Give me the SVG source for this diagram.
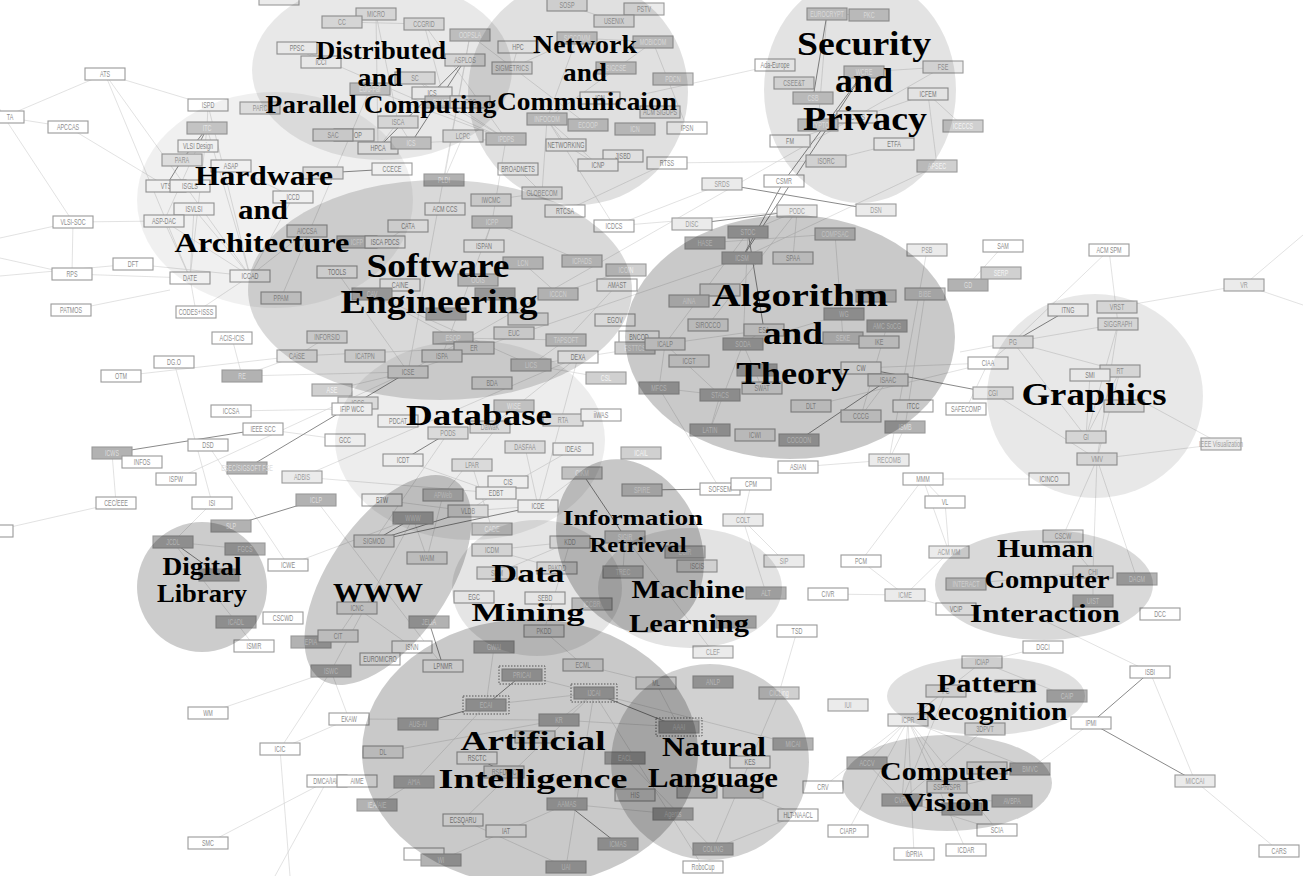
<svg xmlns="http://www.w3.org/2000/svg" xmlns:xlink="http://www.w3.org/1999/xlink" width="1303" height="876" viewBox="0 0 1303 876">
<style>
.nd use{stroke:#9a9a9a;stroke-width:1.1}
.nd text{font-family:"Liberation Sans",Arial,sans-serif;font-size:9px;text-anchor:middle}
.w use{fill:#fff}.w text{fill:#8c8c8c}
.a use{fill:#ebebeb}.a text{fill:#9c9c9c}
.b use{fill:#d0d0d0}.b text{fill:#f4f4f4}
.c use{fill:#b2b2b2}.c text{fill:#dedede}
.dot{fill:none;stroke:#6a6a6a;stroke-width:1;stroke-dasharray:1.5 1.5}
.cl ellipse,.cl circle{fill:#000}
.cl text{font-family:"Liberation Serif","Times New Roman",serif;font-weight:bold;fill:#000;text-anchor:middle}
.lt{fill:none;stroke:#d6d6d6;stroke-width:.7}
.dk{fill:none;stroke:#8a8a8a;stroke-width:1}
</style>
<defs><rect id="bx" x="-20" y="-6" width="40" height="12"/></defs>
<rect width="1303" height="876" fill="#fff"/>
<g id="connectors">
<path class="lt" d="M105 74L4 117M105 74L208 105M105 74L190 278M105 74L250 276M4 117L68 127M4 117L73 222M68 127L166 186M-5 100L4 117M73 222L72 274M73 222L164 221M73 222L0 238M72 274L0 258M72 274L190 278M133 264L250 276M133 264L0 276M208 105L207 128M208 105L250 276M207 128L190 278M207 128L250 276M198 146L164 221M231 166L293 197M194 209L190 278M194 209L250 276M164 221L190 278M164 221L250 276M293 197L250 276M250 276L196 312M190 278L196 312M307 231L250 276M297 48L321 62M297 48L506 139M342 22L424 24M376 14L398 122M376 14L378 148M424 24L445 102M424 24L506 139M470 35L588 125M470 35L444 180M470 35L408 372M415 78L432 93M415 78L506 139M370 89L506 139M445 102L506 139M506 139L492 222M463 136L444 180M398 122L378 148M411 143L398 122M577 38L547 119M577 38L512 68M577 38L653 42M518 47L512 68M614 21L567 5M547 119L542 193M547 119L598 165M547 119L653 42M547 119L566 145M598 165L566 145M542 193L491 200M518 169L542 193M565 211L667 163M667 163L826 161M614 226L722 184M614 226L797 211M614 226L547 119M523 263L558 294M582 261L492 222M626 270L558 294M687 128L653 42M827 14L869 15M818 125L827 14M790 141L928 94M928 94L937 166M928 94L963 126M894 144L826 161M943 67L408 372M943 67L864 72M937 166L742 258M775 65L640 95M797 211L793 258M797 211L748 232M708 325L797 211M748 232L743 344M748 232L665 344M743 344L764 330M743 344L762 388M764 330L665 344M665 344L659 388M659 388L720 395M720 395L665 344M720 395L710 430M710 430L743 344M861 416L887 326M861 416L888 380M811 406L988 363M861 368L888 380M905 427L889 460M905 427L925 294M927 250L889 460M751 484L743 520M720 489L659 388M844 314L743 344M843 338L835 234M705 243L835 234M1003 246L968 285M1109 250L1013 342M1109 250L1118 324M1244 285L1117 307M1244 285L1303 235M1244 285L1303 305M1013 342L1118 324M1013 342L1120 371M1013 342L1086 437M1013 342L988 363M1013 342L960 352M993 393L1097 459M1090 375L1086 437M1118 324L1086 437M1118 324L1097 459M1120 371L1086 437M1120 371L1097 459M1097 459L1221 444M1097 459L1063 536M1097 459L1137 579M1097 459L1093 572M923 479L1049 479M1221 444L1140 400M949 552L905 595M949 552L923 479M861 561L905 595M861 561L923 479M905 595L828 594M905 595L956 609M766 593L743 520M1063 536L1093 572M1093 572L1093 601M1093 572L966 584M1043 620L1150 672M1043 647L982 662M982 662L908 720M908 720L902 800M908 720L946 691M908 720L1030 769M908 720L867 763M946 691L902 800M867 763L902 800M1030 769L902 800M1012 801L902 800M997 830L902 800M997 830L908 720M848 831L908 720M914 854L908 720M966 850L908 720M947 787L908 720M1150 672L1195 781M1195 781L1279 851M1067 696L982 662M985 729L902 800M1091 723L1030 769M594 693L559 720M594 693L486 705M594 693L522 675M679 727L559 720M656 683L679 727M583 665L656 683M583 665L544 631M544 631L570 542M570 542L492 550M570 542L497 573M492 550L557 568M567 804L506 831M506 831L441 860M463 820L566 867M566 867L594 693M463 820L594 693M349 719L331 671M349 719L559 720M383 752L559 720M414 782L486 705M377 805L414 782M494 647L486 705M492 529L472 465M316 500L443 666M357 608L412 647M338 636L357 608M413 518L331 671M413 518L427 558M427 558L443 495M413 518L288 565M208 713L331 671M280 749L349 719M280 749L331 671M280 749L290 876M208 843L327 781M327 781L275 876M673 814L567 804M713 849L779 693M625 758L713 849M793 744L594 693M703 867L594 693M713 652L625 537M623 572L625 537M685 552L625 537M468 511L538 506M538 506L496 493M496 493L468 511M525 447L538 506M578 357L538 506M474 348L297 356M297 356L327 337M448 433L374 541M403 460L496 493M382 500L468 511M514 406L443 495M582 473L538 506M573 449L496 493M490 427L578 357M302 477L496 493M302 477L578 357M71 310L170 290M232 338L242 376M242 376L408 372M242 376L297 356M121 376L297 356M231 411L352 409M174 362L212 503M116 503L112 453M116 503L-7 531M176 479L408 372M208 445L288 565M263 429L345 440M408 372L332 390M408 372L742 258M408 372L337 272M453 338L566 340M453 338L372 294M531 365L372 294M566 340L531 365M617 285L566 340M531 365L665 344M442 356L492 222M492 222L484 246M506 139L411 143M408 226L385 242M281 298L370 89M173 542L236 622M212 503L173 542M173 542L245 549M254 646L236 622M798 815L713 849M798 815L743 792M823 787L908 720M797 631L779 693M784 561L743 520M606 378L531 365M798 467L889 460M966 409L988 363M945 502L949 552M923 479L945 502M861 368L988 363"/>
<path class="dk" d="M112 453L263 429M247 468L408 372M316 500L231 526M207 128L182 160M207 128L198 146M182 160L166 186M465 60L378 148M465 60L411 143M392 169L323 173M692 224L797 211M722 184L876 210M784 181L742 258M864 72L784 181M864 72L742 258M748 232L764 330M813 98L827 14M861 368L993 393M888 380L799 440M720 489L642 490M448 433L403 460M374 541L538 506M374 541L468 511M374 541L413 518M582 473L625 537M429 622L443 666M486 705L522 675M594 693L679 727M418 724L486 705M567 804L618 844M1091 723L1150 672M1091 723L1195 781M477 758L504 772M1013 342L1068 310M173 542L219 575"/>
</g>
<g id="nodes">
<g id="n-top" class="nd a" transform="translate(279 -1)"><use href="#bx"/></g>
<g id="n-ATS" class="nd w" transform="translate(105 74)"><use href="#bx"/><text transform="matrix(.6 0 0 1 0 3)">ATS</text></g>
<g id="n-TA" class="nd w" transform="translate(4 117)"><use href="#bx"/><text transform="matrix(.6 0 0 1 6 3)">TA</text></g>
<g id="n-APCCAS" class="nd w" transform="translate(68 127)"><use href="#bx"/><text transform="matrix(.6 0 0 1 0 3)">APCCAS</text></g>
<g id="n-ISPD" class="nd w" transform="translate(208 105)"><use href="#bx"/><text transform="matrix(.6 0 0 1 0 3)">ISPD</text></g>
<g id="n-PARC" class="nd a" transform="translate(260 108)"><use href="#bx"/><text transform="matrix(.6 0 0 1 0 3)">PARC</text></g>
<g id="n-ITC" class="nd b" transform="translate(207 128)"><use href="#bx"/><text transform="matrix(.6 0 0 1 0 3)">ITC</text></g>
<g id="n-VLSID" class="nd w" transform="translate(198 146)"><use href="#bx"/><text transform="matrix(.6 0 0 1 0 3)">VLSI Design</text></g>
<g id="n-PARA" class="nd a" transform="translate(182 160)"><use href="#bx"/><text transform="matrix(.6 0 0 1 0 3)">PARA</text></g>
<g id="n-ASAP" class="nd w" transform="translate(231 166)"><use href="#bx"/><text transform="matrix(.6 0 0 1 0 3)">ASAP</text></g>
<g id="n-VTS" class="nd w" transform="translate(166 186)"><use href="#bx"/><text transform="matrix(.6 0 0 1 0 3)">VTS</text></g>
<g id="n-ISGLS" class="nd w" transform="translate(190 186)"><use href="#bx"/><text transform="matrix(.6 0 0 1 0 3)">ISGLS</text></g>
<g id="n-ICCD" class="nd w" transform="translate(293 197)"><use href="#bx"/><text transform="matrix(.6 0 0 1 0 3)">ICCD</text></g>
<g id="n-ISVLSI" class="nd w" transform="translate(194 209)"><use href="#bx"/><text transform="matrix(.6 0 0 1 0 3)">ISVLSI</text></g>
<g id="n-ASPDAC" class="nd w" transform="translate(164 221)"><use href="#bx"/><text transform="matrix(.6 0 0 1 0 3)">ASP-DAC</text></g>
<g id="n-AICCSA" class="nd a" transform="translate(307 231)"><use href="#bx"/><text transform="matrix(.6 0 0 1 0 3)">AICCSA</text></g>
<g id="n-VLSISOC" class="nd w" transform="translate(73 222)"><use href="#bx"/><text transform="matrix(.6 0 0 1 0 3)">VLSI-SOC</text></g>
<g id="n-DFT" class="nd w" transform="translate(133 264)"><use href="#bx"/><text transform="matrix(.6 0 0 1 0 3)">DFT</text></g>
<g id="n-RPS" class="nd w" transform="translate(72 274)"><use href="#bx"/><text transform="matrix(.6 0 0 1 0 3)">RPS</text></g>
<g id="n-DATE" class="nd w" transform="translate(190 278)"><use href="#bx"/><text transform="matrix(.6 0 0 1 0 3)">DATE</text></g>
<g id="n-ICCAD" class="nd w" transform="translate(250 276)"><use href="#bx"/><text transform="matrix(.6 0 0 1 0 3)">ICCAD</text></g>
<g id="n-TOOLS" class="nd w" transform="translate(337 272)"><use href="#bx"/><text transform="matrix(.6 0 0 1 0 3)">TOOLS</text></g>
<g id="n-PPSC" class="nd w" transform="translate(297 48)"><use href="#bx"/><text transform="matrix(.6 0 0 1 0 3)">PPSC</text></g>
<g id="n-ICCI" class="nd w" transform="translate(321 62)"><use href="#bx"/><text transform="matrix(.6 0 0 1 0 3)">ICCI</text></g>
<g id="n-OP" class="nd w" transform="translate(354 135)"><use href="#bx"/><text transform="matrix(.6 0 0 1 4 3)">OP</text></g>
<g id="n-SAC" class="nd a" transform="translate(333 135)"><use href="#bx"/><text transform="matrix(.6 0 0 1 0 3)">SAC</text></g>
<g id="n-CCECE" class="nd w" transform="translate(392 169)"><use href="#bx"/><text transform="matrix(.6 0 0 1 0 3)">CCECE</text></g>
<g id="n-hw1" class="nd a" transform="translate(323 173)"><use href="#bx"/></g>
<g id="n-MICRO" class="nd a" transform="translate(376 14)"><use href="#bx"/><text transform="matrix(.6 0 0 1 0 3)">MICRO</text></g>
<g id="n-CC" class="nd a" transform="translate(342 22)"><use href="#bx"/><text transform="matrix(.6 0 0 1 0 3)">CC</text></g>
<g id="n-CCGRID" class="nd a" transform="translate(424 24)"><use href="#bx"/><text transform="matrix(.6 0 0 1 0 3)">CCGRID</text></g>
<g id="n-OOPSLA" class="nd b" transform="translate(470 35)"><use href="#bx"/><text transform="matrix(.6 0 0 1 0 3)">OOPSLA</text></g>
<g id="n-ASPLOS" class="nd a" transform="translate(465 60)"><use href="#bx"/><text transform="matrix(.6 0 0 1 0 3)">ASPLOS</text></g>
<g id="n-EuroPar" class="nd b" transform="translate(370 89)"><use href="#bx"/><text transform="matrix(.6 0 0 1 0 3)">Euro-Par</text></g>
<g id="n-SC" class="nd a" transform="translate(415 78)"><use href="#bx"/><text transform="matrix(.6 0 0 1 0 3)">SC</text></g>
<g id="n-ICS" class="nd w" transform="translate(432 93)"><use href="#bx"/><text transform="matrix(.6 0 0 1 0 3)">ICS</text></g>
<g id="n-CLUSTER" class="nd b" transform="translate(445 102)"><use href="#bx"/><text transform="matrix(.6 0 0 1 0 3)">CLUSTER</text></g>
<g id="n-IPCC" class="nd a" transform="translate(470 102)"><use href="#bx"/><text transform="matrix(.6 0 0 1 0 3)">IPCC</text></g>
<g id="n-ISCA" class="nd a" transform="translate(398 122)"><use href="#bx"/><text transform="matrix(.6 0 0 1 0 3)">ISCA</text></g>
<g id="n-LCPC" class="nd a" transform="translate(463 136)"><use href="#bx"/><text transform="matrix(.6 0 0 1 0 3)">LCPC</text></g>
<g id="n-IPDPS" class="nd b" transform="translate(506 139)"><use href="#bx"/><text transform="matrix(.6 0 0 1 0 3)">IPDPS</text></g>
<g id="n-HPCA" class="nd w" transform="translate(378 148)"><use href="#bx"/><text transform="matrix(.6 0 0 1 0 3)">HPCA</text></g>
<g id="n-ICS2" class="nd b" transform="translate(411 143)"><use href="#bx"/><text transform="matrix(.6 0 0 1 0 3)">ICS</text></g>
<g id="n-PLDI" class="nd c" transform="translate(444 180)"><use href="#bx"/><text transform="matrix(.6 0 0 1 0 3)">PLDI</text></g>
<g id="n-SOSP" class="nd a" transform="translate(567 5)"><use href="#bx"/><text transform="matrix(.6 0 0 1 0 3)">SOSP</text></g>
<g id="n-PSTV" class="nd a" transform="translate(644 9)"><use href="#bx"/><text transform="matrix(.6 0 0 1 0 3)">PSTV</text></g>
<g id="n-USENIX" class="nd a" transform="translate(614 21)"><use href="#bx"/><text transform="matrix(.6 0 0 1 0 3)">USENIX</text></g>
<g id="n-SIGCOMM" class="nd b" transform="translate(577 38)"><use href="#bx"/><text transform="matrix(.6 0 0 1 0 3)">SIGCOMM</text></g>
<g id="n-HPC" class="nd w" transform="translate(518 47)"><use href="#bx"/><text transform="matrix(.6 0 0 1 0 3)">HPC</text></g>
<g id="n-MOBICOM" class="nd b" transform="translate(653 42)"><use href="#bx"/><text transform="matrix(.6 0 0 1 0 3)">MOBICOM</text></g>
<g id="n-SIGMETRICS" class="nd a" transform="translate(512 68)"><use href="#bx"/><text transform="matrix(.6 0 0 1 0 3)">SIGMETRICS</text></g>
<g id="n-SIGCSE" class="nd b" transform="translate(616 68)"><use href="#bx"/><text transform="matrix(.6 0 0 1 0 3)">SIGCSE</text></g>
<g id="n-ICN" class="nd w" transform="translate(600 98)"><use href="#bx"/><text transform="matrix(.6 0 0 1 0 3)">ICN</text></g>
<g id="n-SIGOPS" class="nd a" transform="translate(660 112)"><use href="#bx"/><text transform="matrix(.6 0 0 1 0 3)">ACM SIGOPS</text></g>
<g id="n-INFOCOM" class="nd b" transform="translate(547 119)"><use href="#bx"/><text transform="matrix(.6 0 0 1 0 3)">INFOCOM</text></g>
<g id="n-ECOOP" class="nd b" transform="translate(588 125)"><use href="#bx"/><text transform="matrix(.6 0 0 1 0 3)">ECOOP</text></g>
<g id="n-ICN2" class="nd b" transform="translate(635 129)"><use href="#bx"/><text transform="matrix(.6 0 0 1 0 3)">ICN</text></g>
<g id="n-NETWORKING" class="nd w" transform="translate(566 145)"><use href="#bx"/><text transform="matrix(.6 0 0 1 0 3)">NETWORKING</text></g>
<g id="n-JISBD" class="nd w" transform="translate(623 156)"><use href="#bx"/><text transform="matrix(.6 0 0 1 0 3)">JISBD</text></g>
<g id="n-ICNP" class="nd w" transform="translate(598 165)"><use href="#bx"/><text transform="matrix(.6 0 0 1 0 3)">ICNP</text></g>
<g id="n-IPSN" class="nd w" transform="translate(687 128)"><use href="#bx"/><text transform="matrix(.6 0 0 1 0 3)">IPSN</text></g>
<g id="n-RTSS" class="nd w" transform="translate(667 163)"><use href="#bx"/><text transform="matrix(.6 0 0 1 0 3)">RTSS</text></g>
<g id="n-PDCN" class="nd b" transform="translate(673 79)"><use href="#bx"/><text transform="matrix(.6 0 0 1 0 3)">PDCN</text></g>
<g id="n-BROADNETS" class="nd w" transform="translate(518 169)"><use href="#bx"/><text transform="matrix(.6 0 0 1 0 3)">BROADNETS</text></g>
<g id="n-GLOBECOM" class="nd a" transform="translate(542 193)"><use href="#bx"/><text transform="matrix(.6 0 0 1 0 3)">GLOBECOM</text></g>
<g id="n-IWCMC" class="nd a" transform="translate(491 200)"><use href="#bx"/><text transform="matrix(.6 0 0 1 0 3)">IWCMC</text></g>
<g id="n-ACMCCS" class="nd w" transform="translate(445 209)"><use href="#bx"/><text transform="matrix(.6 0 0 1 0 3)">ACM CCS</text></g>
<g id="n-RTCSA" class="nd w" transform="translate(565 211)"><use href="#bx"/><text transform="matrix(.6 0 0 1 0 3)">RTCSA</text></g>
<g id="n-ICPP" class="nd b" transform="translate(492 222)"><use href="#bx"/><text transform="matrix(.6 0 0 1 0 3)">ICPP</text></g>
<g id="n-CATA" class="nd w" transform="translate(408 226)"><use href="#bx"/><text transform="matrix(.6 0 0 1 0 3)">CATA</text></g>
<g id="n-ICDCS" class="nd w" transform="translate(614 226)"><use href="#bx"/><text transform="matrix(.6 0 0 1 0 3)">ICDCS</text></g>
<g id="n-ICFP" class="nd b" transform="translate(357 242)"><use href="#bx"/><text transform="matrix(.6 0 0 1 0 3)">ICFP</text></g>
<g id="n-ISCAPDCS" class="nd w" transform="translate(385 242)"><use href="#bx"/><text transform="matrix(.6 0 0 1 0 3)">ISCA PDCS</text></g>
<g id="n-ISPAN" class="nd w" transform="translate(484 246)"><use href="#bx"/><text transform="matrix(.6 0 0 1 0 3)">ISPAN</text></g>
<g id="n-LCN" class="nd b" transform="translate(523 263)"><use href="#bx"/><text transform="matrix(.6 0 0 1 0 3)">LCN</text></g>
<g id="n-ICPADS" class="nd b" transform="translate(582 261)"><use href="#bx"/><text transform="matrix(.6 0 0 1 0 3)">ICPADS</text></g>
<g id="n-ICOIN" class="nd b" transform="translate(626 270)"><use href="#bx"/><text transform="matrix(.6 0 0 1 0 3)">ICOIN</text></g>
<g id="n-AMAST" class="nd w" transform="translate(617 285)"><use href="#bx"/><text transform="matrix(.6 0 0 1 0 3)">AMAST</text></g>
<g id="n-CAINE" class="nd w" transform="translate(400 285)"><use href="#bx"/><text transform="matrix(.6 0 0 1 0 3)">CAINE</text></g>
<g id="n-OOIS" class="nd b" transform="translate(478 280)"><use href="#bx"/><text transform="matrix(.6 0 0 1 0 3)">OOIS</text></g>
<g id="n-ICCCN" class="nd b" transform="translate(558 294)"><use href="#bx"/><text transform="matrix(.6 0 0 1 0 3)">ICCCN</text></g>
<g id="n-EUROCRYPT" class="nd b" transform="translate(827 14)"><use href="#bx"/><text transform="matrix(.6 0 0 1 0 3)">EUROCRYPT</text></g>
<g id="n-PKC" class="nd b" transform="translate(869 15)"><use href="#bx"/><text transform="matrix(.6 0 0 1 0 3)">PKC</text></g>
<g id="n-AdaEurope" class="nd w" transform="translate(775 65)"><use href="#bx"/><text transform="matrix(.6 0 0 1 0 3)">Ada-Europe</text></g>
<g id="n-WCRE" class="nd b" transform="translate(864 72)"><use href="#bx"/><text transform="matrix(.6 0 0 1 0 3)">WCRE</text></g>
<g id="n-FSE" class="nd a" transform="translate(943 67)"><use href="#bx"/><text transform="matrix(.6 0 0 1 0 3)">FSE</text></g>
<g id="n-CSEET" class="nd a" transform="translate(794 83)"><use href="#bx"/><text transform="matrix(.6 0 0 1 0 3)">CSEE&amp;T</text></g>
<g id="n-ICFEM" class="nd w" transform="translate(928 94)"><use href="#bx"/><text transform="matrix(.6 0 0 1 0 3)">ICFEM</text></g>
<g id="n-CSB" class="nd b" transform="translate(813 98)"><use href="#bx"/><text transform="matrix(.6 0 0 1 0 3)">CSB</text></g>
<g id="n-ICTCS" class="nd w" transform="translate(857 117)"><use href="#bx"/><text transform="matrix(.6 0 0 1 0 3)">ICTCS</text></g>
<g id="n-CRYPTO" class="nd b" transform="translate(818 125)"><use href="#bx"/><text transform="matrix(.6 0 0 1 0 3)">CRYPTO</text></g>
<g id="n-ICECCS" class="nd b" transform="translate(963 126)"><use href="#bx"/><text transform="matrix(.6 0 0 1 0 3)">ICECCS</text></g>
<g id="n-FM" class="nd w" transform="translate(790 141)"><use href="#bx"/><text transform="matrix(.6 0 0 1 0 3)">FM</text></g>
<g id="n-ETFA" class="nd w" transform="translate(894 144)"><use href="#bx"/><text transform="matrix(.6 0 0 1 0 3)">ETFA</text></g>
<g id="n-ISORC" class="nd a" transform="translate(826 161)"><use href="#bx"/><text transform="matrix(.6 0 0 1 0 3)">ISORC</text></g>
<g id="n-APSEC" class="nd b" transform="translate(937 166)"><use href="#bx"/><text transform="matrix(.6 0 0 1 0 3)">APSEC</text></g>
<g id="n-SRDS" class="nd a" transform="translate(722 184)"><use href="#bx"/><text transform="matrix(.6 0 0 1 0 3)">SRDS</text></g>
<g id="n-CSMR" class="nd w" transform="translate(784 181)"><use href="#bx"/><text transform="matrix(.6 0 0 1 0 3)">CSMR</text></g>
<g id="n-DSN" class="nd a" transform="translate(876 210)"><use href="#bx"/><text transform="matrix(.6 0 0 1 0 3)">DSN</text></g>
<g id="n-PODC" class="nd a" transform="translate(797 211)"><use href="#bx"/><text transform="matrix(.6 0 0 1 0 3)">PODC</text></g>
<g id="n-DISC" class="nd a" transform="translate(692 224)"><use href="#bx"/><text transform="matrix(.6 0 0 1 0 3)">DISC</text></g>
<g id="n-STOC" class="nd c" transform="translate(748 232)"><use href="#bx"/><text transform="matrix(.6 0 0 1 0 3)">STOC</text></g>
<g id="n-COMPSAC" class="nd b" transform="translate(835 234)"><use href="#bx"/><text transform="matrix(.6 0 0 1 0 3)">COMPSAC</text></g>
<g id="n-HASE" class="nd c" transform="translate(705 243)"><use href="#bx"/><text transform="matrix(.6 0 0 1 0 3)">HASE</text></g>
<g id="n-ICSM" class="nd c" transform="translate(742 258)"><use href="#bx"/><text transform="matrix(.6 0 0 1 0 3)">ICSM</text></g>
<g id="n-SPAA" class="nd a" transform="translate(793 258)"><use href="#bx"/><text transform="matrix(.6 0 0 1 0 3)">SPAA</text></g>
<g id="n-PSB" class="nd a" transform="translate(927 250)"><use href="#bx"/><text transform="matrix(.6 0 0 1 0 3)">PSB</text></g>
<g id="n-GD" class="nd c" transform="translate(968 285)"><use href="#bx"/><text transform="matrix(.6 0 0 1 0 3)">GD</text></g>
<g id="n-SERP" class="nd b" transform="translate(1001 273)"><use href="#bx"/><text transform="matrix(.6 0 0 1 0 3)">SERP</text></g>
<g id="n-SAM" class="nd w" transform="translate(1003 246)"><use href="#bx"/><text transform="matrix(.6 0 0 1 0 3)">SAM</text></g>
<g id="n-ACMSPM" class="nd w" transform="translate(1109 250)"><use href="#bx"/><text transform="matrix(.6 0 0 1 0 3)">ACM SPM</text></g>
<g id="n-VR" class="nd a" transform="translate(1244 285)"><use href="#bx"/><text transform="matrix(.6 0 0 1 0 3)">VR</text></g>
<g id="n-BIBE" class="nd b" transform="translate(925 294)"><use href="#bx"/><text transform="matrix(.6 0 0 1 0 3)">BIBE</text></g>
<g id="n-al1" class="nd a" transform="translate(720 290)"><use href="#bx"/></g>
<g id="n-AINA" class="nd b" transform="translate(689 301)"><use href="#bx"/><text transform="matrix(.6 0 0 1 0 3)">AINA</text></g>
<g id="n-al2" class="nd b" transform="translate(876 296)"><use href="#bx"/></g>
<g id="n-WG" class="nd c" transform="translate(844 314)"><use href="#bx"/><text transform="matrix(.6 0 0 1 0 3)">WG</text></g>
<g id="n-SIROCCO" class="nd a" transform="translate(708 325)"><use href="#bx"/><text transform="matrix(.6 0 0 1 0 3)">SIROCCO</text></g>
<g id="n-SoCG" class="nd c" transform="translate(887 326)"><use href="#bx"/><text transform="matrix(.6 0 0 1 0 3)">AMC SoCG</text></g>
<g id="n-ESA" class="nd a" transform="translate(764 330)"><use href="#bx"/><text transform="matrix(.6 0 0 1 0 3)">ESA</text></g>
<g id="n-SEKE" class="nd b" transform="translate(843 338)"><use href="#bx"/><text transform="matrix(.6 0 0 1 0 3)">SEKE</text></g>
<g id="n-IKE" class="nd a" transform="translate(879 342)"><use href="#bx"/><text transform="matrix(.6 0 0 1 0 3)">IKE</text></g>
<g id="n-BNCOD" class="nd w" transform="translate(639 337)"><use href="#bx"/><text transform="matrix(.6 0 0 1 0 3)">BNCOD</text></g>
<g id="n-FSTTCS" class="nd b" transform="translate(635 348)"><use href="#bx"/><text transform="matrix(.6 0 0 1 0 3)">FSTTCS</text></g>
<g id="n-ICALP" class="nd a" transform="translate(665 344)"><use href="#bx"/><text transform="matrix(.6 0 0 1 0 3)">ICALP</text></g>
<g id="n-SODA" class="nd c" transform="translate(743 344)"><use href="#bx"/><text transform="matrix(.6 0 0 1 0 3)">SODA</text></g>
<g id="n-ICGT" class="nd a" transform="translate(689 361)"><use href="#bx"/><text transform="matrix(.6 0 0 1 0 3)">ICGT</text></g>
<g id="n-CW" class="nd w" transform="translate(861 368)"><use href="#bx"/><text transform="matrix(.6 0 0 1 0 3)">CW</text></g>
<g id="n-ISAAC" class="nd a" transform="translate(888 380)"><use href="#bx"/><text transform="matrix(.6 0 0 1 0 3)">ISAAC</text></g>
<g id="n-MFCS" class="nd c" transform="translate(659 388)"><use href="#bx"/><text transform="matrix(.6 0 0 1 0 3)">MFCS</text></g>
<g id="n-al3" class="nd c" transform="translate(757 370)"><use href="#bx"/></g>
<g id="n-SWAT" class="nd a" transform="translate(762 388)"><use href="#bx"/><text transform="matrix(.6 0 0 1 0 3)">SWAT</text></g>
<g id="n-STACS" class="nd c" transform="translate(720 395)"><use href="#bx"/><text transform="matrix(.6 0 0 1 0 3)">STACS</text></g>
<g id="n-DLT" class="nd a" transform="translate(811 406)"><use href="#bx"/><text transform="matrix(.6 0 0 1 0 3)">DLT</text></g>
<g id="n-ITCC" class="nd w" transform="translate(913 406)"><use href="#bx"/><text transform="matrix(.6 0 0 1 0 3)">ITCC</text></g>
<g id="n-CCCG" class="nd a" transform="translate(861 416)"><use href="#bx"/><text transform="matrix(.6 0 0 1 0 3)">CCCG</text></g>
<g id="n-SAFECOMP" class="nd w" transform="translate(966 409)"><use href="#bx"/><text transform="matrix(.6 0 0 1 0 3)">SAFECOMP</text></g>
<g id="n-ISMB" class="nd c" transform="translate(905 427)"><use href="#bx"/><text transform="matrix(.6 0 0 1 0 3)">ISMB</text></g>
<g id="n-LATIN" class="nd c" transform="translate(710 430)"><use href="#bx"/><text transform="matrix(.6 0 0 1 0 3)">LATIN</text></g>
<g id="n-ICWI" class="nd a" transform="translate(755 435)"><use href="#bx"/><text transform="matrix(.6 0 0 1 0 3)">ICWI</text></g>
<g id="n-COCOON" class="nd c" transform="translate(799 440)"><use href="#bx"/><text transform="matrix(.6 0 0 1 0 3)">COCOON</text></g>
<g id="n-ASIAN" class="nd w" transform="translate(798 467)"><use href="#bx"/><text transform="matrix(.6 0 0 1 0 3)">ASIAN</text></g>
<g id="n-RECOMB" class="nd a" transform="translate(889 460)"><use href="#bx"/><text transform="matrix(.6 0 0 1 0 3)">RECOMB</text></g>
<g id="n-MMM" class="nd w" transform="translate(923 479)"><use href="#bx"/><text transform="matrix(.6 0 0 1 0 3)">MMM</text></g>
<g id="n-SOFSEM" class="nd w" transform="translate(720 489)"><use href="#bx"/><text transform="matrix(.6 0 0 1 0 3)">SOFSEM</text></g>
<g id="n-CPM" class="nd w" transform="translate(751 484)"><use href="#bx"/><text transform="matrix(.6 0 0 1 0 3)">CPM</text></g>
<g id="n-SPIRE" class="nd b" transform="translate(642 490)"><use href="#bx"/><text transform="matrix(.6 0 0 1 0 3)">SPIRE</text></g>
<g id="n-VL" class="nd w" transform="translate(945 502)"><use href="#bx"/><text transform="matrix(.6 0 0 1 0 3)">VL</text></g>
<g id="n-COLT" class="nd a" transform="translate(743 520)"><use href="#bx"/><text transform="matrix(.6 0 0 1 0 3)">COLT</text></g>
<g id="n-SIP" class="nd a" transform="translate(784 561)"><use href="#bx"/><text transform="matrix(.6 0 0 1 0 3)">SIP</text></g>
<g id="n-PCM" class="nd w" transform="translate(861 561)"><use href="#bx"/><text transform="matrix(.6 0 0 1 0 3)">PCM</text></g>
<g id="n-ACMMM" class="nd a" transform="translate(949 552)"><use href="#bx"/><text transform="matrix(.6 0 0 1 0 3)">ACM MM</text></g>
<g id="n-INTERACT" class="nd b" transform="translate(966 584)"><use href="#bx"/><text transform="matrix(.6 0 0 1 0 3)">INTERACT</text></g>
<g id="n-ISCIS" class="nd a" transform="translate(697 566)"><use href="#bx"/><text transform="matrix(.6 0 0 1 0 3)">ISCIS</text></g>
<g id="n-SIGIR" class="nd b" transform="translate(625 537)"><use href="#bx"/><text transform="matrix(.6 0 0 1 0 3)">SIGIR</text></g>
<g id="n-ECIR" class="nd b" transform="translate(685 552)"><use href="#bx"/><text transform="matrix(.6 0 0 1 0 3)">ECIR</text></g>
<g id="n-TREC" class="nd b" transform="translate(623 572)"><use href="#bx"/><text transform="matrix(.6 0 0 1 0 3)">TREC</text></g>
<g id="n-ICAIL" class="nd b" transform="translate(641 453)"><use href="#bx"/><text transform="matrix(.6 0 0 1 0 3)">ICAIL</text></g>
<g id="n-CSL" class="nd b" transform="translate(606 378)"><use href="#bx"/><text transform="matrix(.6 0 0 1 0 3)">CSL</text></g>
<g id="n-CAV" class="nd c" transform="translate(372 294)"><use href="#bx"/><text transform="matrix(.6 0 0 1 0 3)">CAV</text></g>
<g id="n-se1" class="nd c" transform="translate(495 294)"><use href="#bx"/></g>
<g id="n-se2" class="nd c" transform="translate(446 314)"><use href="#bx"/></g>
<g id="n-se3" class="nd a" transform="translate(528 319)"><use href="#bx"/></g>
<g id="n-EGOV" class="nd w" transform="translate(615 320)"><use href="#bx"/><text transform="matrix(.6 0 0 1 0 3)">EGOV</text></g>
<g id="n-INFORSID" class="nd a" transform="translate(327 337)"><use href="#bx"/><text transform="matrix(.6 0 0 1 0 3)">INFORSID</text></g>
<g id="n-EUC" class="nd a" transform="translate(514 333)"><use href="#bx"/><text transform="matrix(.6 0 0 1 0 3)">EUC</text></g>
<g id="n-ESOP" class="nd b" transform="translate(453 338)"><use href="#bx"/><text transform="matrix(.6 0 0 1 0 3)">ESOP</text></g>
<g id="n-TAPSOFT" class="nd b" transform="translate(566 340)"><use href="#bx"/><text transform="matrix(.6 0 0 1 0 3)">TAPSOFT</text></g>
<g id="n-ER" class="nd a" transform="translate(474 348)"><use href="#bx"/><text transform="matrix(.6 0 0 1 0 3)">ER</text></g>
<g id="n-ICATPN" class="nd a" transform="translate(365 356)"><use href="#bx"/><text transform="matrix(.6 0 0 1 0 3)">ICATPN</text></g>
<g id="n-ISPA" class="nd a" transform="translate(442 356)"><use href="#bx"/><text transform="matrix(.6 0 0 1 0 3)">ISPA</text></g>
<g id="n-DEXA" class="nd w" transform="translate(578 357)"><use href="#bx"/><text transform="matrix(.6 0 0 1 0 3)">DEXA</text></g>
<g id="n-LICS" class="nd b" transform="translate(531 365)"><use href="#bx"/><text transform="matrix(.6 0 0 1 0 3)">LICS</text></g>
<g id="n-ICSE" class="nd a" transform="translate(408 372)"><use href="#bx"/><text transform="matrix(.6 0 0 1 0 3)">ICSE</text></g>
<g id="n-ASE" class="nd b" transform="translate(332 390)"><use href="#bx"/><text transform="matrix(.6 0 0 1 0 3)">ASE</text></g>
<g id="n-BDA" class="nd a" transform="translate(492 383)"><use href="#bx"/><text transform="matrix(.6 0 0 1 0 3)">BDA</text></g>
<g id="n-ICCS" class="nd a" transform="translate(358 403)"><use href="#bx"/><text transform="matrix(.6 0 0 1 0 3)">ICCS</text></g>
<g id="n-IFIPWCC" class="nd w" transform="translate(352 409)"><use href="#bx"/><text transform="matrix(.6 0 0 1 0 3)">IFIP WCC</text></g>
<g id="n-WISE" class="nd b" transform="translate(514 406)"><use href="#bx"/><text transform="matrix(.6 0 0 1 0 3)">WISE</text></g>
<g id="n-PDCAT" class="nd w" transform="translate(398 421)"><use href="#bx"/><text transform="matrix(.6 0 0 1 0 3)">PDCAT</text></g>
<g id="n-DaWaK" class="nd a" transform="translate(490 427)"><use href="#bx"/><text transform="matrix(.6 0 0 1 0 3)">DaWaK</text></g>
<g id="n-RTA" class="nd a" transform="translate(563 420)"><use href="#bx"/><text transform="matrix(.6 0 0 1 0 3)">RTA</text></g>
<g id="n-iiWAS" class="nd w" transform="translate(601 415)"><use href="#bx"/><text transform="matrix(.6 0 0 1 0 3)">iiWAS</text></g>
<g id="n-PODS" class="nd a" transform="translate(448 433)"><use href="#bx"/><text transform="matrix(.6 0 0 1 0 3)">PODS</text></g>
<g id="n-GCC" class="nd w" transform="translate(345 440)"><use href="#bx"/><text transform="matrix(.6 0 0 1 0 3)">GCC</text></g>
<g id="n-DASFAA" class="nd a" transform="translate(525 447)"><use href="#bx"/><text transform="matrix(.6 0 0 1 0 3)">DASFAA</text></g>
<g id="n-IDEAS" class="nd w" transform="translate(573 449)"><use href="#bx"/><text transform="matrix(.6 0 0 1 0 3)">IDEAS</text></g>
<g id="n-ICDT" class="nd w" transform="translate(403 460)"><use href="#bx"/><text transform="matrix(.6 0 0 1 0 3)">ICDT</text></g>
<g id="n-LPAR" class="nd a" transform="translate(472 465)"><use href="#bx"/><text transform="matrix(.6 0 0 1 0 3)">LPAR</text></g>
<g id="n-CIKM" class="nd b" transform="translate(582 473)"><use href="#bx"/><text transform="matrix(.6 0 0 1 0 3)">CIKM</text></g>
<g id="n-CIS" class="nd w" transform="translate(508 482)"><use href="#bx"/><text transform="matrix(.6 0 0 1 0 3)">CIS</text></g>
<g id="n-EDBT" class="nd w" transform="translate(496 493)"><use href="#bx"/><text transform="matrix(.6 0 0 1 0 3)">EDBT</text></g>
<g id="n-BTW" class="nd w" transform="translate(382 500)"><use href="#bx"/><text transform="matrix(.6 0 0 1 0 3)">BTW</text></g>
<g id="n-APWeb" class="nd b" transform="translate(443 495)"><use href="#bx"/><text transform="matrix(.6 0 0 1 0 3)">APWeb</text></g>
<g id="n-ICDE" class="nd w" transform="translate(538 506)"><use href="#bx"/><text transform="matrix(.6 0 0 1 0 3)">ICDE</text></g>
<g id="n-VLDB" class="nd a" transform="translate(468 511)"><use href="#bx"/><text transform="matrix(.6 0 0 1 0 3)">VLDB</text></g>
<g id="n-WWW" class="nd c" transform="translate(413 518)"><use href="#bx"/><text transform="matrix(.6 0 0 1 0 3)">WWW</text></g>
<g id="n-CADE" class="nd b" transform="translate(492 529)"><use href="#bx"/><text transform="matrix(.6 0 0 1 0 3)">CADE</text></g>
<g id="n-SIGMOD" class="nd a" transform="translate(374 541)"><use href="#bx"/><text transform="matrix(.6 0 0 1 0 3)">SIGMOD</text></g>
<g id="n-KDD" class="nd a" transform="translate(570 542)"><use href="#bx"/><text transform="matrix(.6 0 0 1 0 3)">KDD</text></g>
<g id="n-WAIM" class="nd a" transform="translate(427 558)"><use href="#bx"/><text transform="matrix(.6 0 0 1 0 3)">WAIM</text></g>
<g id="n-ICDM" class="nd a" transform="translate(492 550)"><use href="#bx"/><text transform="matrix(.6 0 0 1 0 3)">ICDM</text></g>
<g id="n-PAKDD" class="nd a" transform="translate(557 568)"><use href="#bx"/><text transform="matrix(.6 0 0 1 0 3)">PAKDD</text></g>
<g id="n-SDM" class="nd a" transform="translate(497 573)"><use href="#bx"/><text transform="matrix(.6 0 0 1 0 3)">SDM</text></g>
<g id="n-PPAM" class="nd a" transform="translate(281 298)"><use href="#bx"/><text transform="matrix(.6 0 0 1 0 3)">PPAM</text></g>
<g id="n-PATMOS" class="nd w" transform="translate(71 310)"><use href="#bx"/><text transform="matrix(.6 0 0 1 0 3)">PATMOS</text></g>
<g id="n-CODES" class="nd w" transform="translate(196 312)"><use href="#bx"/><text transform="matrix(.6 0 0 1 0 3)">CODES+ISSS</text></g>
<g id="n-ACIS" class="nd w" transform="translate(232 338)"><use href="#bx"/><text transform="matrix(.6 0 0 1 0 3)">ACIS-ICIS</text></g>
<g id="n-CAiSE" class="nd a" transform="translate(297 356)"><use href="#bx"/><text transform="matrix(.6 0 0 1 0 3)">CAiSE</text></g>
<g id="n-DGO" class="nd w" transform="translate(174 362)"><use href="#bx"/><text transform="matrix(.6 0 0 1 0 3)">DG.O</text></g>
<g id="n-OTM" class="nd w" transform="translate(121 376)"><use href="#bx"/><text transform="matrix(.6 0 0 1 0 3)">OTM</text></g>
<g id="n-RE" class="nd c" transform="translate(242 376)"><use href="#bx"/><text transform="matrix(.6 0 0 1 0 3)">RE</text></g>
<g id="n-ICCSA" class="nd w" transform="translate(231 411)"><use href="#bx"/><text transform="matrix(.6 0 0 1 0 3)">ICCSA</text></g>
<g id="n-IEEESCC" class="nd w" transform="translate(263 429)"><use href="#bx"/><text transform="matrix(.6 0 0 1 0 3)">IEEE SCC</text></g>
<g id="n-DSD" class="nd w" transform="translate(208 445)"><use href="#bx"/><text transform="matrix(.6 0 0 1 0 3)">DSD</text></g>
<g id="n-ICWS" class="nd c" transform="translate(112 453)"><use href="#bx"/><text transform="matrix(.6 0 0 1 0 3)">ICWS</text></g>
<g id="n-INFOS" class="nd w" transform="translate(142 462)"><use href="#bx"/><text transform="matrix(.6 0 0 1 0 3)">INFOS</text></g>
<g id="n-ESEC" class="nd c" transform="translate(247 468)"><use href="#bx"/><text transform="matrix(.6 0 0 1 0 3)">ESEC/SIGSOFT FSE</text></g>
<g id="n-ISPW" class="nd w" transform="translate(176 479)"><use href="#bx"/><text transform="matrix(.6 0 0 1 0 3)">ISPW</text></g>
<g id="n-ADBIS" class="nd a" transform="translate(302 477)"><use href="#bx"/><text transform="matrix(.6 0 0 1 0 3)">ADBIS</text></g>
<g id="n-ICLP" class="nd c" transform="translate(316 500)"><use href="#bx"/><text transform="matrix(.6 0 0 1 0 3)">ICLP</text></g>
<g id="n-CECEEE" class="nd w" transform="translate(116 503)"><use href="#bx"/><text transform="matrix(.6 0 0 1 0 3)">CEC/EEE</text></g>
<g id="n-ISI" class="nd w" transform="translate(212 503)"><use href="#bx"/><text transform="matrix(.6 0 0 1 0 3)">ISI</text></g>
<g id="n-lf1" class="nd w" transform="translate(-7 531)"><use href="#bx"/></g>
<g id="n-SLP" class="nd c" transform="translate(231 526)"><use href="#bx"/><text transform="matrix(.6 0 0 1 0 3)">SLP</text></g>
<g id="n-JCDL" class="nd c" transform="translate(173 542)"><use href="#bx"/><text transform="matrix(.6 0 0 1 0 3)">JCDL</text></g>
<g id="n-FGCS" class="nd c" transform="translate(245 549)"><use href="#bx"/><text transform="matrix(.6 0 0 1 0 3)">FGCS</text></g>
<g id="n-ICWE" class="nd w" transform="translate(288 565)"><use href="#bx"/><text transform="matrix(.6 0 0 1 0 3)">ICWE</text></g>
<g id="n-dl1" class="nd c" transform="translate(219 575)"><use href="#bx"/></g>
<g id="n-ICADL" class="nd c" transform="translate(236 622)"><use href="#bx"/><text transform="matrix(.6 0 0 1 0 3)">ICADL</text></g>
<g id="n-CSCWD" class="nd w" transform="translate(283 618)"><use href="#bx"/><text transform="matrix(.6 0 0 1 0 3)">CSCWD</text></g>
<g id="n-ISMIR" class="nd w" transform="translate(254 646)"><use href="#bx"/><text transform="matrix(.6 0 0 1 0 3)">ISMIR</text></g>
<g id="n-EPIA" class="nd c" transform="translate(311 642)"><use href="#bx"/><text transform="matrix(.6 0 0 1 0 3)">EPIA</text></g>
<g id="n-CIT" class="nd a" transform="translate(338 636)"><use href="#bx"/><text transform="matrix(.6 0 0 1 0 3)">CIT</text></g>
<g id="n-ISWC" class="nd c" transform="translate(331 671)"><use href="#bx"/><text transform="matrix(.6 0 0 1 0 3)">ISWC</text></g>
<g id="n-WM" class="nd w" transform="translate(208 713)"><use href="#bx"/><text transform="matrix(.6 0 0 1 0 3)">WM</text></g>
<g id="n-ICIC" class="nd w" transform="translate(280 749)"><use href="#bx"/><text transform="matrix(.6 0 0 1 0 3)">ICIC</text></g>
<g id="n-DMCA" class="nd w" transform="translate(327 781)"><use href="#bx"/><text transform="matrix(.6 0 0 1 0 3)">DMCA/IAW</text></g>
<g id="n-SMC" class="nd w" transform="translate(208 843)"><use href="#bx"/><text transform="matrix(.6 0 0 1 0 3)">SMC</text></g>
<g id="n-ICNC" class="nd a" transform="translate(357 608)"><use href="#bx"/><text transform="matrix(.6 0 0 1 0 3)">ICNC</text></g>
<g id="n-EGC" class="nd w" transform="translate(474 597)"><use href="#bx"/><text transform="matrix(.6 0 0 1 0 3)">EGC</text></g>
<g id="n-SEBD" class="nd w" transform="translate(545 598)"><use href="#bx"/><text transform="matrix(.6 0 0 1 0 3)">SEBD</text></g>
<g id="n-ICCBR" class="nd b" transform="translate(592 604)"><use href="#bx"/><text transform="matrix(.6 0 0 1 0 3)">ICCBR</text></g>
<g id="n-JELIA" class="nd c" transform="translate(429 622)"><use href="#bx"/><text transform="matrix(.6 0 0 1 0 3)">JELIA</text></g>
<g id="n-PKDD" class="nd a" transform="translate(544 631)"><use href="#bx"/><text transform="matrix(.6 0 0 1 0 3)">PKDD</text></g>
<g id="n-ISNN" class="nd w" transform="translate(412 647)"><use href="#bx"/><text transform="matrix(.6 0 0 1 0 3)">ISNN</text></g>
<g id="n-GWAI" class="nd c" transform="translate(494 647)"><use href="#bx"/><text transform="matrix(.6 0 0 1 0 3)">GWAI</text></g>
<g id="n-EUROMICRO" class="nd w" transform="translate(380 659)"><use href="#bx"/><text transform="matrix(.6 0 0 1 0 3)">EUROMICRO</text></g>
<g id="n-LPNMR" class="nd w" transform="translate(443 666)"><use href="#bx"/><text transform="matrix(.6 0 0 1 0 3)">LPNMR</text></g>
<g id="n-ECML" class="nd a" transform="translate(583 665)"><use href="#bx"/><text transform="matrix(.6 0 0 1 0 3)">ECML</text></g>
<g id="n-PRICAI" class="nd c" transform="translate(522 675)"><rect class="dot" x="-23" y="-9" width="46" height="18"/><use href="#bx"/><text transform="matrix(.6 0 0 1 0 3)">PRICAI</text></g>
<g id="n-IJCAI" class="nd c" transform="translate(594 693)"><rect class="dot" x="-23" y="-9" width="46" height="18"/><use href="#bx"/><text transform="matrix(.6 0 0 1 0 3)">IJCAI</text></g>
<g id="n-ECAI" class="nd c" transform="translate(486 705)"><rect class="dot" x="-23" y="-9" width="46" height="18"/><use href="#bx"/><text transform="matrix(.6 0 0 1 0 3)">ECAI</text></g>
<g id="n-EKAW" class="nd w" transform="translate(349 719)"><use href="#bx"/><text transform="matrix(.6 0 0 1 0 3)">EKAW</text></g>
<g id="n-KR" class="nd c" transform="translate(559 720)"><use href="#bx"/><text transform="matrix(.6 0 0 1 0 3)">KR</text></g>
<g id="n-AUSAI" class="nd c" transform="translate(418 724)"><use href="#bx"/><text transform="matrix(.6 0 0 1 0 3)">AUS-AI</text></g>
<g id="n-ai1" class="nd a" transform="translate(535 737)"><use href="#bx"/></g>
<g id="n-DL" class="nd a" transform="translate(383 752)"><use href="#bx"/><text transform="matrix(.6 0 0 1 0 3)">DL</text></g>
<g id="n-RSCTC" class="nd w" transform="translate(477 758)"><use href="#bx"/><text transform="matrix(.6 0 0 1 0 3)">RSCTC</text></g>
<g id="n-EACL" class="nd c" transform="translate(625 758)"><use href="#bx"/><text transform="matrix(.6 0 0 1 0 3)">EACL</text></g>
<g id="n-RSFD" class="nd a" transform="translate(504 772)"><use href="#bx"/><text transform="matrix(.6 0 0 1 0 3)">RSFDGrC</text></g>
<g id="n-AIME" class="nd w" transform="translate(357 781)"><use href="#bx"/><text transform="matrix(.6 0 0 1 0 3)">AIME</text></g>
<g id="n-AIIA" class="nd c" transform="translate(414 782)"><use href="#bx"/><text transform="matrix(.6 0 0 1 0 3)">AI*IA</text></g>
<g id="n-HIS" class="nd a" transform="translate(635 795)"><use href="#bx"/><text transform="matrix(.6 0 0 1 0 3)">HIS</text></g>
<g id="n-IEAAIE" class="nd c" transform="translate(377 805)"><use href="#bx"/><text transform="matrix(.6 0 0 1 0 3)">IEA/AIE</text></g>
<g id="n-AAMAS" class="nd c" transform="translate(567 804)"><use href="#bx"/><text transform="matrix(.6 0 0 1 0 3)">AAMAS</text></g>
<g id="n-ECSQARU" class="nd w" transform="translate(463 820)"><use href="#bx"/><text transform="matrix(.6 0 0 1 0 3)">ECSQARU</text></g>
<g id="n-IAT" class="nd w" transform="translate(506 831)"><use href="#bx"/><text transform="matrix(.6 0 0 1 0 3)">IAT</text></g>
<g id="n-ICMAS" class="nd c" transform="translate(618 844)"><use href="#bx"/><text transform="matrix(.6 0 0 1 0 3)">ICMAS</text></g>
<g id="n-ai2" class="nd w" transform="translate(424 854)"><use href="#bx"/></g>
<g id="n-WI" class="nd c" transform="translate(441 860)"><use href="#bx"/><text transform="matrix(.6 0 0 1 0 3)">WI</text></g>
<g id="n-UAI" class="nd c" transform="translate(566 867)"><use href="#bx"/><text transform="matrix(.6 0 0 1 0 3)">UAI</text></g>
<g id="n-ALT" class="nd c" transform="translate(766 593)"><use href="#bx"/><text transform="matrix(.6 0 0 1 0 3)">ALT</text></g>
<g id="n-CIVR" class="nd w" transform="translate(828 594)"><use href="#bx"/><text transform="matrix(.6 0 0 1 0 3)">CIVR</text></g>
<g id="n-ICME" class="nd a" transform="translate(905 595)"><use href="#bx"/><text transform="matrix(.6 0 0 1 0 3)">ICME</text></g>
<g id="n-ml1" class="nd c" transform="translate(736 622)"><use href="#bx"/></g>
<g id="n-TSD" class="nd w" transform="translate(797 631)"><use href="#bx"/><text transform="matrix(.6 0 0 1 0 3)">TSD</text></g>
<g id="n-VCIP" class="nd w" transform="translate(956 609)"><use href="#bx"/><text transform="matrix(.6 0 0 1 0 3)">VCIP</text></g>
<g id="n-CLEF" class="nd a" transform="translate(713 652)"><use href="#bx"/><text transform="matrix(.6 0 0 1 0 3)">CLEF</text></g>
<g id="n-ML" class="nd a" transform="translate(656 683)"><use href="#bx"/><text transform="matrix(.6 0 0 1 0 3)">ML</text></g>
<g id="n-ANLP" class="nd c" transform="translate(713 682)"><use href="#bx"/><text transform="matrix(.6 0 0 1 0 3)">ANLP</text></g>
<g id="n-CICLing" class="nd b" transform="translate(779 693)"><use href="#bx"/><text transform="matrix(.6 0 0 1 0 3)">CICLing</text></g>
<g id="n-IUI" class="nd a" transform="translate(848 705)"><use href="#bx"/><text transform="matrix(.6 0 0 1 0 3)">IUI</text></g>
<g id="n-FG" class="nd a" transform="translate(946 691)"><use href="#bx"/><text transform="matrix(.6 0 0 1 0 3)">FG</text></g>
<g id="n-ICPR" class="nd a" transform="translate(908 720)"><use href="#bx"/><text transform="matrix(.6 0 0 1 0 3)">ICPR</text></g>
<g id="n-AAAI" class="nd c" transform="translate(679 727)"><rect class="dot" x="-23" y="-9" width="46" height="18"/><use href="#bx"/><text transform="matrix(.6 0 0 1 0 3)">AAAI</text></g>
<g id="n-3DPVT" class="nd a" transform="translate(985 729)"><use href="#bx"/><text transform="matrix(.6 0 0 1 0 3)">3DPVT</text></g>
<g id="n-MICAI" class="nd c" transform="translate(793 744)"><use href="#bx"/><text transform="matrix(.6 0 0 1 0 3)">MICAI</text></g>
<g id="n-KES" class="nd w" transform="translate(750 762)"><use href="#bx"/><text transform="matrix(.6 0 0 1 0 3)">KES</text></g>
<g id="n-ACCV" class="nd c" transform="translate(867 763)"><use href="#bx"/><text transform="matrix(.6 0 0 1 0 3)">ACCV</text></g>
<g id="n-nl1" class="nd b" transform="translate(697 792)"><use href="#bx"/></g>
<g id="n-nl2" class="nd b" transform="translate(743 792)"><use href="#bx"/></g>
<g id="n-CRV" class="nd w" transform="translate(823 787)"><use href="#bx"/><text transform="matrix(.6 0 0 1 0 3)">CRV</text></g>
<g id="n-SSPR" class="nd a" transform="translate(947 787)"><use href="#bx"/><text transform="matrix(.6 0 0 1 0 3)">SSPR/SPR</text></g>
<g id="n-CVPR" class="nd c" transform="translate(902 800)"><use href="#bx"/><text transform="matrix(.6 0 0 1 0 3)">CVPR</text></g>
<g id="n-cv1" class="nd c" transform="translate(962 809)"><use href="#bx"/></g>
<g id="n-HLT" class="nd w" transform="translate(798 815)"><use href="#bx"/><text transform="matrix(.6 0 0 1 0 3)">HLT-NAACL</text></g>
<g id="n-Agents" class="nd c" transform="translate(673 814)"><use href="#bx"/><text transform="matrix(.6 0 0 1 0 3)">Agents</text></g>
<g id="n-CIARP" class="nd w" transform="translate(848 831)"><use href="#bx"/><text transform="matrix(.6 0 0 1 0 3)">CIARP</text></g>
<g id="n-IbPRIA" class="nd w" transform="translate(914 854)"><use href="#bx"/><text transform="matrix(.6 0 0 1 0 3)">IbPRIA</text></g>
<g id="n-ICDAR" class="nd w" transform="translate(966 850)"><use href="#bx"/><text transform="matrix(.6 0 0 1 0 3)">ICDAR</text></g>
<g id="n-COLING" class="nd c" transform="translate(713 849)"><use href="#bx"/><text transform="matrix(.6 0 0 1 0 3)">COLING</text></g>
<g id="n-RoboCup" class="nd w" transform="translate(703 867)"><use href="#bx"/><text transform="matrix(.6 0 0 1 0 3)">RoboCup</text></g>
<g id="n-DAGM" class="nd c" transform="translate(1137 579)"><use href="#bx"/><text transform="matrix(.6 0 0 1 0 3)">DAGM</text></g>
<g id="n-CSCW" class="nd a" transform="translate(1063 536)"><use href="#bx"/><text transform="matrix(.6 0 0 1 0 3)">CSCW</text></g>
<g id="n-CHI" class="nd a" transform="translate(1093 572)"><use href="#bx"/><text transform="matrix(.6 0 0 1 0 3)">CHI</text></g>
<g id="n-UIST" class="nd c" transform="translate(1093 601)"><use href="#bx"/><text transform="matrix(.6 0 0 1 0 3)">UIST</text></g>
<g id="n-DCC" class="nd w" transform="translate(1160 614)"><use href="#bx"/><text transform="matrix(.6 0 0 1 0 3)">DCC</text></g>
<g id="n-DGCI" class="nd w" transform="translate(1043 647)"><use href="#bx"/><text transform="matrix(.6 0 0 1 0 3)">DGCI</text></g>
<g id="n-ICIAP" class="nd a" transform="translate(982 662)"><use href="#bx"/><text transform="matrix(.6 0 0 1 0 3)">ICIAP</text></g>
<g id="n-ISBI" class="nd w" transform="translate(1150 672)"><use href="#bx"/><text transform="matrix(.6 0 0 1 0 3)">ISBI</text></g>
<g id="n-pr1" class="nd a" transform="translate(1015 686)"><use href="#bx"/></g>
<g id="n-CAIP" class="nd c" transform="translate(1067 696)"><use href="#bx"/><text transform="matrix(.6 0 0 1 0 3)">CAIP</text></g>
<g id="n-IPMI" class="nd w" transform="translate(1091 723)"><use href="#bx"/><text transform="matrix(.6 0 0 1 0 3)">IPMI</text></g>
<g id="n-cv2" class="nd a" transform="translate(987 768)"><use href="#bx"/></g>
<g id="n-BMVC" class="nd c" transform="translate(1030 769)"><use href="#bx"/><text transform="matrix(.6 0 0 1 0 3)">BMVC</text></g>
<g id="n-AVBPA" class="nd c" transform="translate(1012 801)"><use href="#bx"/><text transform="matrix(.6 0 0 1 0 3)">AVBPA</text></g>
<g id="n-SCIA" class="nd w" transform="translate(997 830)"><use href="#bx"/><text transform="matrix(.6 0 0 1 0 3)">SCIA</text></g>
<g id="n-MICCAI" class="nd a" transform="translate(1195 781)"><use href="#bx"/><text transform="matrix(.6 0 0 1 0 3)">MICCAI</text></g>
<g id="n-CARS" class="nd w" transform="translate(1279 851)"><use href="#bx"/><text transform="matrix(.6 0 0 1 0 3)">CARS</text></g>
<g id="n-ITNG" class="nd w" transform="translate(1068 310)"><use href="#bx"/><text transform="matrix(.6 0 0 1 0 3)">ITNG</text></g>
<g id="n-VRST" class="nd a" transform="translate(1117 307)"><use href="#bx"/><text transform="matrix(.6 0 0 1 0 3)">VRST</text></g>
<g id="n-SIGGRAPH" class="nd a" transform="translate(1118 324)"><use href="#bx"/><text transform="matrix(.6 0 0 1 0 3)">SIGGRAPH</text></g>
<g id="n-PG" class="nd a" transform="translate(1013 342)"><use href="#bx"/><text transform="matrix(.6 0 0 1 0 3)">PG</text></g>
<g id="n-CIAA" class="nd w" transform="translate(988 363)"><use href="#bx"/><text transform="matrix(.6 0 0 1 0 3)">CIAA</text></g>
<g id="n-RT" class="nd a" transform="translate(1120 371)"><use href="#bx"/><text transform="matrix(.6 0 0 1 0 3)">RT</text></g>
<g id="n-SMI" class="nd w" transform="translate(1090 375)"><use href="#bx"/><text transform="matrix(.6 0 0 1 0 3)">SMI</text></g>
<g id="n-CGI" class="nd a" transform="translate(993 393)"><use href="#bx"/><text transform="matrix(.6 0 0 1 0 3)">CGI</text></g>
<g id="n-gr1" class="nd a" transform="translate(1124 406)"><use href="#bx"/></g>
<g id="n-GI" class="nd a" transform="translate(1086 437)"><use href="#bx"/><text transform="matrix(.6 0 0 1 0 3)">GI</text></g>
<g id="n-IEEEVis" class="nd a" transform="translate(1221 444)"><use href="#bx"/><text transform="matrix(.6 0 0 1 0 3)">IEEE Visualization</text></g>
<g id="n-VMV" class="nd a" transform="translate(1097 459)"><use href="#bx"/><text transform="matrix(.6 0 0 1 0 3)">VMV</text></g>
<g id="n-ICINCO" class="nd w" transform="translate(1049 479)"><use href="#bx"/><text transform="matrix(.6 0 0 1 0 3)">ICINCO</text></g>
</g>
<g id="c-dist" class="cl"><ellipse cx="382" cy="70" rx="130" ry="90" fill-opacity=".09"/><text x="381" y="59" font-size="26" textLength="130" lengthAdjust="spacingAndGlyphs">Distributed</text><text x="380" y="86" font-size="26" textLength="45" lengthAdjust="spacingAndGlyphs">and</text><text x="381" y="113" font-size="26" textLength="231" lengthAdjust="spacingAndGlyphs">Parallel Computing</text></g>
<g id="c-net" class="cl"><ellipse cx="578" cy="92" rx="110" ry="113" fill-opacity=".12"/><text x="585" y="53" font-size="26" textLength="104" lengthAdjust="spacingAndGlyphs">Network</text><text x="585" y="81" font-size="26" textLength="44" lengthAdjust="spacingAndGlyphs">and</text><text x="587" y="110" font-size="26" textLength="180" lengthAdjust="spacingAndGlyphs">Communicaion</text></g>
<g id="c-sec" class="cl"><ellipse cx="860" cy="90" rx="96" ry="113" fill-opacity=".11"/><text x="864" y="55" font-size="33" textLength="134" lengthAdjust="spacingAndGlyphs">Security</text><text x="864" y="92" font-size="33" textLength="58" lengthAdjust="spacingAndGlyphs">and</text><text x="865" y="130" font-size="33" textLength="124" lengthAdjust="spacingAndGlyphs">Privacy</text></g>
<g id="c-hw" class="cl"><ellipse cx="275" cy="200" rx="138" ry="108" fill-opacity=".06"/><text x="264" y="185" font-size="27" textLength="138" lengthAdjust="spacingAndGlyphs">Hardware</text><text x="263" y="219" font-size="27" textLength="50" lengthAdjust="spacingAndGlyphs">and</text><text x="262" y="252" font-size="27" textLength="175" lengthAdjust="spacingAndGlyphs">Architecture</text></g>
<g id="c-se" class="cl"><ellipse cx="440" cy="290" rx="192" ry="110" fill-opacity=".15"/><text x="438" y="277" font-size="33" textLength="143" lengthAdjust="spacingAndGlyphs">Software</text><text x="439" y="313" font-size="33" textLength="197" lengthAdjust="spacingAndGlyphs">Engineering</text></g>
<g id="c-db" class="cl"><ellipse cx="470" cy="440" rx="135" ry="100" fill-opacity=".07"/><text x="479" y="425" font-size="30" textLength="146" lengthAdjust="spacingAndGlyphs">Database</text></g>
<g id="c-alg" class="cl"><ellipse cx="790" cy="337" rx="165" ry="122" fill-opacity=".21"/><text x="800" y="306" font-size="32" textLength="176" lengthAdjust="spacingAndGlyphs">Algorithm</text><text x="793" y="344" font-size="32" textLength="60" lengthAdjust="spacingAndGlyphs">and</text><text x="793" y="384" font-size="32" textLength="113" lengthAdjust="spacingAndGlyphs">Theory</text></g>
<g id="c-gr" class="cl"><ellipse cx="1095" cy="396" rx="108" ry="102" fill-opacity=".09"/><text x="1094" y="405" font-size="32" textLength="145" lengthAdjust="spacingAndGlyphs">Graphics</text></g>
<g id="c-ir" class="cl"><ellipse cx="630" cy="546" rx="70" ry="90" transform="rotate(-25 630 546)" fill-opacity=".22"/><text x="633" y="525" font-size="22" textLength="140" lengthAdjust="spacingAndGlyphs">Information</text><text x="638" y="552" font-size="22" textLength="97" lengthAdjust="spacingAndGlyphs">Retrieval</text></g>
<g id="c-www" class="cl"><ellipse cx="388" cy="580" rx="60" ry="120" transform="rotate(34 388 580)" fill-opacity=".2"/><text x="378" y="602" font-size="28" textLength="90" lengthAdjust="spacingAndGlyphs">WWW</text></g>
<g id="c-dl" class="cl"><circle cx="202" cy="587" r="65" fill-opacity=".2"/><text x="202" y="575" font-size="25" textLength="79" lengthAdjust="spacingAndGlyphs">Digital</text><text x="202" y="602" font-size="25" textLength="90" lengthAdjust="spacingAndGlyphs">Library</text></g>
<g id="c-dm" class="cl"><ellipse cx="537" cy="588" rx="85" ry="68" fill-opacity=".1"/><text x="528" y="582" font-size="26" textLength="73" lengthAdjust="spacingAndGlyphs">Data</text><text x="528" y="621" font-size="26" textLength="113" lengthAdjust="spacingAndGlyphs">Mining</text></g>
<g id="c-ml" class="cl"><ellipse cx="690" cy="588" rx="92" ry="60" fill-opacity=".11"/><text x="688" y="598" font-size="26" textLength="113" lengthAdjust="spacingAndGlyphs">Machine</text><text x="689" y="632" font-size="26" textLength="120" lengthAdjust="spacingAndGlyphs">Learning</text></g>
<g id="c-ai" class="cl"><ellipse cx="530" cy="752" rx="168" ry="133" fill-opacity=".21"/><text x="533" y="750" font-size="28" textLength="145" lengthAdjust="spacingAndGlyphs">Artificial</text><text x="533" y="788" font-size="28" textLength="189" lengthAdjust="spacingAndGlyphs">Intelligence</text></g>
<g id="c-nl" class="cl"><ellipse cx="710" cy="762" rx="99" ry="98" fill-opacity=".18"/><text x="714" y="756" font-size="27" textLength="104" lengthAdjust="spacingAndGlyphs">Natural</text><text x="713" y="787" font-size="27" textLength="130" lengthAdjust="spacingAndGlyphs">Language</text></g>
<g id="c-hci" class="cl"><ellipse cx="1044" cy="585" rx="109" ry="55" fill-opacity=".15"/><text x="1045" y="557" font-size="26" textLength="96" lengthAdjust="spacingAndGlyphs">Human</text><text x="1047" y="588" font-size="26" textLength="125" lengthAdjust="spacingAndGlyphs">Computer</text><text x="1045" y="622" font-size="26" textLength="150" lengthAdjust="spacingAndGlyphs">Interaction</text></g>
<g id="c-pr" class="cl"><ellipse cx="986" cy="696" rx="99" ry="39" fill-opacity=".12"/><text x="987" y="692" font-size="25" textLength="100" lengthAdjust="spacingAndGlyphs">Pattern</text><text x="992" y="720" font-size="25" textLength="151" lengthAdjust="spacingAndGlyphs">Recognition</text></g>
<g id="c-cv" class="cl"><ellipse cx="947" cy="783" rx="105" ry="48" fill-opacity=".18"/><text x="946" y="780" font-size="25" textLength="132" lengthAdjust="spacingAndGlyphs">Computer</text><text x="946" y="811" font-size="25" textLength="87" lengthAdjust="spacingAndGlyphs">Vision</text></g>
</svg>
